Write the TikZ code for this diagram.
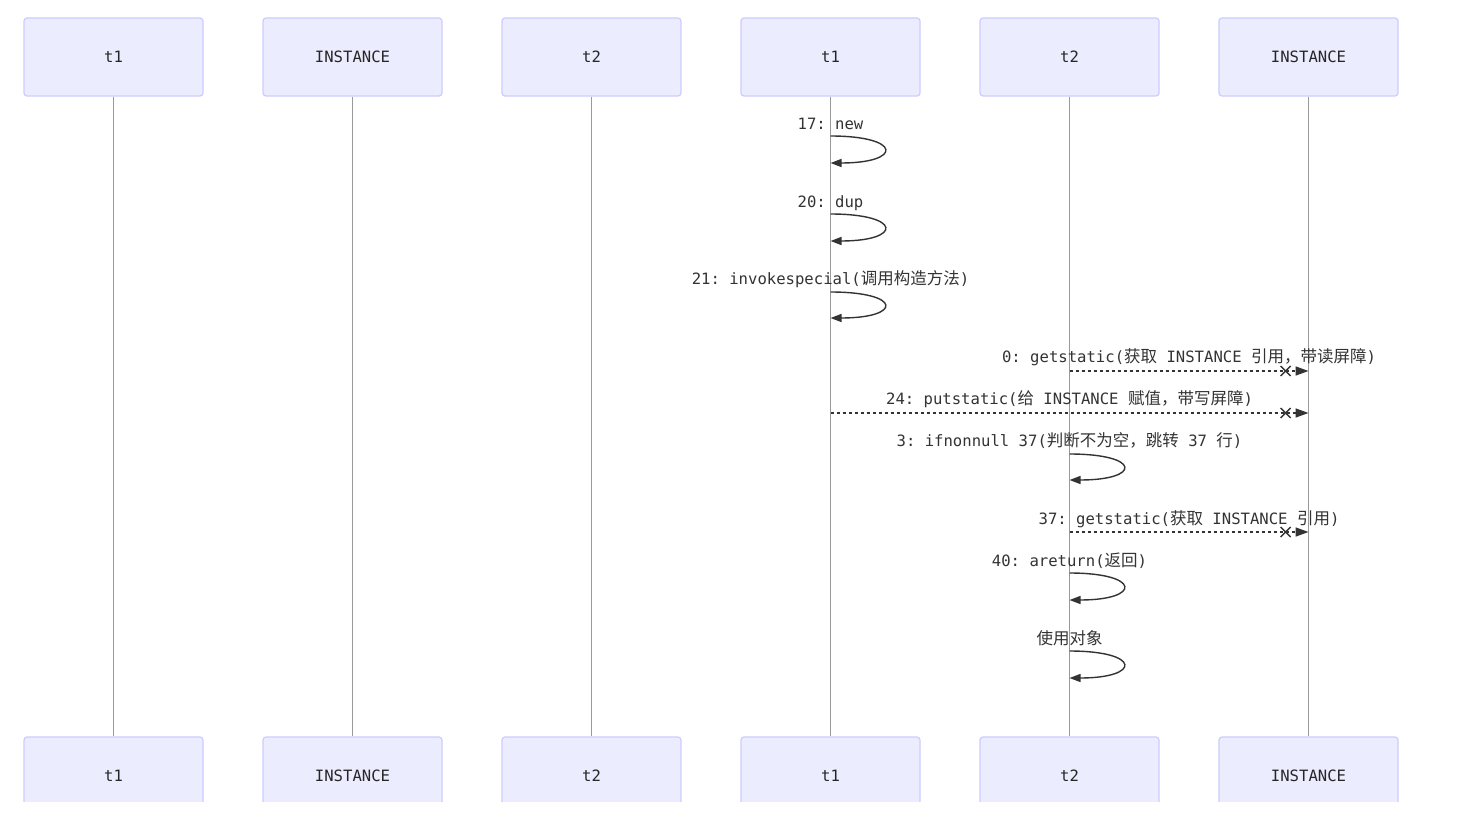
\documentclass[tikz,border=0pt]{standalone}
\usepackage{fontspec}
\setmonofont{DejaVu Sans Mono}
\newfontfamily\cjkfam{Noto Sans CJK SC}
\usetikzlibrary{arrows.meta,calc}
\newcommand{\zh}[1]{{\cjkfam\fontsize{16.5}{18}\selectfont #1}}
\definecolor{actorfill}{HTML}{ECECFF}
\definecolor{actorborder}{HTML}{CCCCFF}
\definecolor{lifecol}{HTML}{999999}
\definecolor{txt}{HTML}{333333}
\definecolor{msgcol}{HTML}{333333}
\begin{document}
\begin{tikzpicture}[x=1pt,y=-1pt,
  actor/.style={draw=actorborder, fill=actorfill, line width=1.2pt, rounded corners=3pt,
    minimum width=179pt, minimum height=78pt, inner sep=0pt,
    font=\ttfamily\fontsize{15.6}{18}\selectfont, text=black!85},
  lifeline/.style={draw=lifecol, line width=0.9pt},
  lbl/.style={anchor=base, inner sep=0pt, font=\ttfamily\fontsize{15.6}{18}\selectfont, text=txt},
  selfloop/.style={draw=msgcol, line width=1.4pt, -{Triangle[length=11pt,width=8pt]}},
  dashmsg/.style={draw=msgcol, line width=1.6pt, dash pattern=on 3pt off 3pt, -{Triangle[length=13pt,width=9pt]}},
  crossmk/.style={draw=msgcol, line width=1.4pt}
]
\useasboundingbox (0,0) rectangle (1480,832);
\fill[white] (0,0) rectangle (1480,832);

% top actors
\node[actor] (A1) at (113.5,57) {t1};
\node[actor] (A2) at (352.5,57) {INSTANCE};
\node[actor] (A3) at (591.5,57) {t2};
\node[actor] (A4) at (830.5,57) {t1};
\node[actor] (A5) at (1069.5,57) {t2};
\node[actor] (A6) at (1308.5,57) {INSTANCE};

% bottom actors (clipped)
\begin{scope}
\clip (0,0) rectangle (1480,801);
\node[actor] (B1) at (113.5,776) {t1};
\node[actor] (B2) at (352.5,776) {INSTANCE};
\node[actor] (B3) at (591.5,776) {t2};
\node[actor] (B4) at (830.5,776) {t1};
\node[actor] (B5) at (1069.5,776) {t2};
\node[actor] (B6) at (1308.5,776) {INSTANCE};
\end{scope}

% lifelines
\foreach \i in {1,...,6} {
  \draw[lifeline] (A\i.south) -- (B\i.north);
}

% coordinates on lifelines
\coordinate (t1x) at (830.5,0);
\coordinate (t2x) at (1069.5,0);
\coordinate (inx) at (1308.5,0);

% self messages on t1
\node[lbl] (L1) at (830.5,129) {17: new};
\coordinate (s1) at (830.5,136); \coordinate (e1) at (830.5,163);
\draw[selfloop] (s1) .. controls +(72,0) and +(72,0) .. (e1);

\node[lbl] (L2) at (830.5,207) {20: dup};
\coordinate (s2) at (830.5,214); \coordinate (e2) at (830.5,241);
\draw[selfloop] (s2) .. controls +(72,0) and +(72,0) .. (e2);

\node[lbl] (L3) at (830.5,284) {21: invokespecial(\zh{调用构造方法})};
\coordinate (s3) at (830.5,292); \coordinate (e3) at (830.5,318);
\draw[selfloop] (s3) .. controls +(72,0) and +(72,0) .. (e3);

% 0: getstatic t2 -> INSTANCE
\node[lbl] (L4) at (1189,362) {0: getstatic(\zh{获取} INSTANCE \zh{引用，带读屏障})};
\coordinate (s4) at (1069.5,371); \coordinate (e4) at (1308.5,371);
\draw[dashmsg] (s4) -- (e4);
\draw[crossmk] ($(e4)+(-28,-5)$) -- ($(e4)+(-18,5)$);
\draw[crossmk] ($(e4)+(-28,5)$) -- ($(e4)+(-18,-5)$);

% 24: putstatic t1 -> INSTANCE
\node[lbl] (L5) at (1069.5,404) {24: putstatic(\zh{给} INSTANCE \zh{赋值，带写屏障})};
\coordinate (s5) at (830.5,413); \coordinate (e5) at (1308.5,413);
\draw[dashmsg] (s5) -- (e5);
\draw[crossmk] ($(e5)+(-28,-5)$) -- ($(e5)+(-18,5)$);
\draw[crossmk] ($(e5)+(-28,5)$) -- ($(e5)+(-18,-5)$);

% 3: ifnonnull
\node[lbl] (L6) at (1069.5,446) {3: ifnonnull 37(\zh{判断不为空，跳转} 37 \zh{行})};
\coordinate (s6) at (1069.5,454); \coordinate (e6) at (1069.5,480);
\draw[selfloop] (s6) .. controls +(72,0) and +(72,0) .. (e6);

% 37: getstatic
\node[lbl] (L7) at (1189,524) {37: getstatic(\zh{获取} INSTANCE \zh{引用})};
\coordinate (s7) at (1069.5,532); \coordinate (e7) at (1308.5,532);
\draw[dashmsg] (s7) -- (e7);
\draw[crossmk] ($(e7)+(-28,-5)$) -- ($(e7)+(-18,5)$);
\draw[crossmk] ($(e7)+(-28,5)$) -- ($(e7)+(-18,-5)$);

% 40: areturn
\node[lbl] (L8) at (1069.5,566) {40: areturn(\zh{返回})};
\coordinate (s8) at (1069.5,573); \coordinate (e8) at (1069.5,600);
\draw[selfloop] (s8) .. controls +(72,0) and +(72,0) .. (e8);

% 使用对象
\node[lbl] (L9) at (1069.5,644) {\zh{使用对象}};
\coordinate (s9) at (1069.5,651); \coordinate (e9) at (1069.5,678);
\draw[selfloop] (s9) .. controls +(72,0) and +(72,0) .. (e9);

\end{tikzpicture}
\end{document}
